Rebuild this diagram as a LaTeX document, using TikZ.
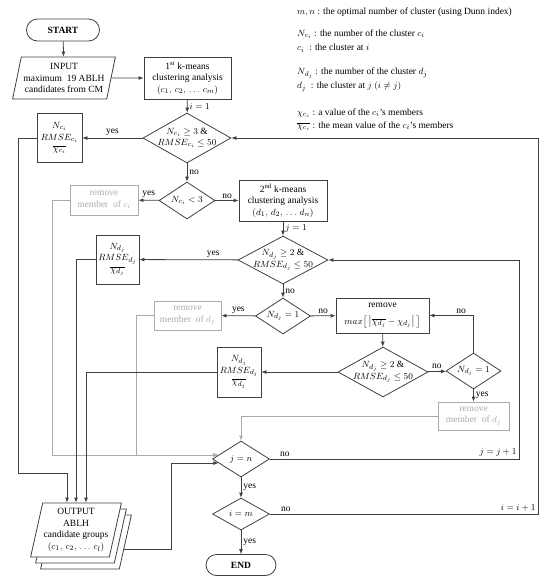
\documentclass[tikz,border=0pt]{standalone}
\usepackage{fontspec}
\setmainfont{Liberation Serif}
\usetikzlibrary{shapes.geometric,shapes.misc,shadows,calc,arrows.meta}

\definecolor{linecol}{RGB}{64,64,64}
\definecolor{greycol}{RGB}{170,170,170}

\tikzset{
  every node/.style={font=\fontsize{9.5}{11.5}\selectfont},
  terminal/.style={rounded rectangle,draw=linecol,thick,inner sep=0pt},
  iobox/.style={trapezium,trapezium left angle=75,trapezium right angle=105,
    trapezium stretches=true,draw=linecol,thick,fill=white,align=center,inner sep=1pt},
  procbox/.style={rectangle,draw=linecol,thick,align=center,inner sep=1pt},
  greybox/.style={rectangle,draw=greycol,thick,text=greycol,align=center,inner sep=1pt},
  decision/.style={diamond,draw=linecol,thick,inner sep=0pt,
    label={[align=center,inner sep=0pt]center:#1}},
  legend/.style={anchor=west,inner sep=0pt},
  arr/.style={draw=linecol,thick,-{Latex[length=5pt,width=4pt]}},
  garr/.style={draw=greycol,thick,-{Latex[length=5pt,width=4pt]}},
  lab/.style={inner sep=2pt}
}

\begin{document}
\begin{tikzpicture}[x=1pt,y=-1pt]
  \useasboundingbox (0,0) rectangle (550,584);

  % legend
  \node[legend] (l1) at (297,12) {$m,n$\ : the optimal number of cluster (using Dunn index)};
  \node[legend] (l2) at (297,34) {$N_{c_i}$ : the number of the cluster $c_i$};
  \node[legend] (l3) at (297,48) {$c_i$\enspace : the cluster at $i$};
  \node[legend] (l4) at (297,73) {$N_{d_j}$ : the number of the cluster $d_j$};
  \node[legend] (l5) at (297,87) {$d_j$\enspace : the cluster at $j$ $(i\neq j)$};
  \node[legend] (l6) at (297,113) {$\chi_{c_i}$ : a value of the $c_i$'s members};
  \node[legend] (l7) at (297,126) {$\overline{\chi_{c_i}}$ : the mean value of the $c_i$'s members};

  % first clustering
  \node[terminal,minimum width=73pt,minimum height=22pt] (start) at (63,30) {\textbf{START}};
  \node[iobox,minimum width=103pt,minimum height=42pt] (input) at (64,78)
    {INPUT\\maximum\enspace 19 ABLH\\candidates from CM};
  \node[procbox,minimum width=87pt,minimum height=42pt] (km1) at (187.5,78)
    {1\textsuperscript{st} k-means\\clustering analysis\\$(c_1,\,c_2,\,\dots\,c_m)$};
  \node[decision={$N_{c_i}\geq 3$ \&\\$RMSE_{c_i}\leq 50$},
    minimum width=88pt,minimum height=50pt] (d1) at (187,138) {};
  \node[procbox,minimum width=45pt,minimum height=49pt] (nc) at (59.5,138)
    {$N_{c_i}$\\$RMSE_{c_i}$\\$\overline{\chi_{c_i}}$};
  \node[decision={$N_{c_i}<3$},minimum width=56pt,minimum height=37pt] (d2) at (187,200.5) {};
  \node[greybox,minimum width=68pt,minimum height=30pt] (rmc) at (104,200)
    {remove\\member\enspace of $c_i$};

  % second clustering
  \node[procbox,minimum width=88pt,minimum height=41pt] (km2) at (283,200.5)
    {2\textsuperscript{nd} k-means\\clustering analysis\\$(d_1,\,d_2,\,\dots\,d_n)$};
  \node[decision={$N_{d_j}\geq 2$ \&\\$RMSE_{d_j}\leq 50$},
    minimum width=90pt,minimum height=48pt] (d3) at (283,260) {};
  \node[procbox,minimum width=43pt,minimum height=49pt] (nd1) at (117.5,259.5)
    {$N_{d_j}$\\$RMSE_{d_j}$\\$\overline{\chi_{d_j}}$};
  \node[decision={$N_{d_j}=1$},minimum width=55pt,minimum height=36pt] (d4) at (283,316) {};
  \node[greybox,minimum width=67pt,minimum height=29pt] (rmd1) at (187.5,315.5)
    {remove\\member\enspace of $d_j$};
  \node[procbox,minimum width=93pt,minimum height=35pt] (rmx) at (382.5,315.5)
    {remove\\[5pt]$max\big[\,\big|\overline{\chi_{d_j}}-\chi_{d_j}\big|\,\big]$};
  \node[decision={$N_{d_j}\geq 2$ \&\\$RMSE_{d_j}\leq 50$},
    minimum width=90pt,minimum height=50pt] (d5) at (383,372) {};
  \node[procbox,minimum width=44pt,minimum height=50pt] (nd2) at (239,372)
    {$N_{d_j}$\\$RMSE_{d_j}$\\$\overline{\chi_{d_j}}$};
  \node[decision={$N_{d_j}=1$},minimum width=55pt,minimum height=36pt] (d6) at (473.5,371) {};
  \node[greybox,minimum width=71pt,minimum height=28pt] (rmd2) at (473.5,416)
    {remove\\member\enspace of $d_j$};

  % loops and end
  \node[decision={$j=n$},minimum width=57pt,minimum height=36pt] (jn) at (241,459) {};
  \node[decision={$i=m$},minimum width=57pt,minimum height=32pt] (im) at (241,514) {};
  \node[terminal,minimum width=70pt,minimum height=21pt] (end) at (241,565) {\textbf{END}};
  \node[iobox,minimum width=84pt,minimum height=54pt,
    copy shadow={shadow xshift=10pt,shadow yshift=-12pt,fill=white,draw=linecol,thick},
    copy shadow={shadow xshift=5pt,shadow yshift=-6pt,fill=white,draw=linecol,thick}]
    (out) at (76,530) {OUTPUT\\ABLH\\candidate groups\\$(c_1,\,c_2,\,\dots\,c_l)$};

  \coordinate (jnup) at ($(jn.west)!0.22!(jn.north)$);
  \coordinate (jnlow) at ($(jn.west)!0.22!(jn.south)$);

  % connectors
  \draw[arr] (start) -- (input);
  \draw[arr] (input) -- (km1);
  \draw[arr] (km1) -- node[lab,right]{$i=1$} (d1);
  \draw[arr] (d1) -- node[lab,above]{yes} (nc);
  \draw[arr] (d1) -- node[lab,right]{no} (d2);
  \draw[arr] (d2) -- node[lab,above]{yes} (rmc);
  \draw[arr] (d2) -- node[lab,above]{no} (km2);
  \draw[arr] (km2) -- node[lab,right]{$j=1$} (d3);
  \draw[arr] (d3) -- node[lab,above,pos=0.25]{yes} (nd1);
  \draw[arr] (d3) -- node[lab,right]{no} (d4);
  \draw[arr] (d4) -- node[lab,above]{yes} (rmd1);
  \draw[arr] (d4) -- node[lab,above]{no} (rmx);
  \draw[arr] (rmx) -- (d5);
  \draw[arr] (d5) -- (nd2);
  \draw[arr] (d5) -- node[lab,above]{no} (d6);
  \draw[arr] (d6.north) |- node[lab,above,pos=0.64]{no} (rmx.east);
  \draw[arr] (d6) -- node[lab,right]{yes} (rmd2);

  \draw[garr] (rmc.west) -- ++(-17,0) |- (jnup);
  \draw[garr] (rmd1.west) -- ++(-17,0) |- (jnup);
  \draw[garr] (rmd2.west) -| (jn.north);

  \draw[arr] (nc.west) -| ++(-18,335) -| ([xshift=-9pt]out.north);
  \draw[arr] (nd1.west) -| (out.north);
  \draw[arr] (nd2.west) -| ([xshift=10pt]out.north);
  \draw[arr] ($(out.east)+(8,19)$) -| ($(jnlow)-(47,0)$) -- (jnlow);

  \draw[arr] (jn) -- node[lab,right]{yes} (im);
  \draw[arr] (im) -- node[lab,right]{yes} (end);
  \draw[arr] (jn.east) -- node[lab,above,pos=0.06]{no} ++(249,0)
    node[lab,above left]{$j=j+1$} |- (d3.east);
  \draw[arr] (im.east) -- node[lab,above,pos=0.06]{no} ++(268,0)
    node[lab,above left]{$i=i+1$} |- (d1.east);
\end{tikzpicture}
\end{document}
